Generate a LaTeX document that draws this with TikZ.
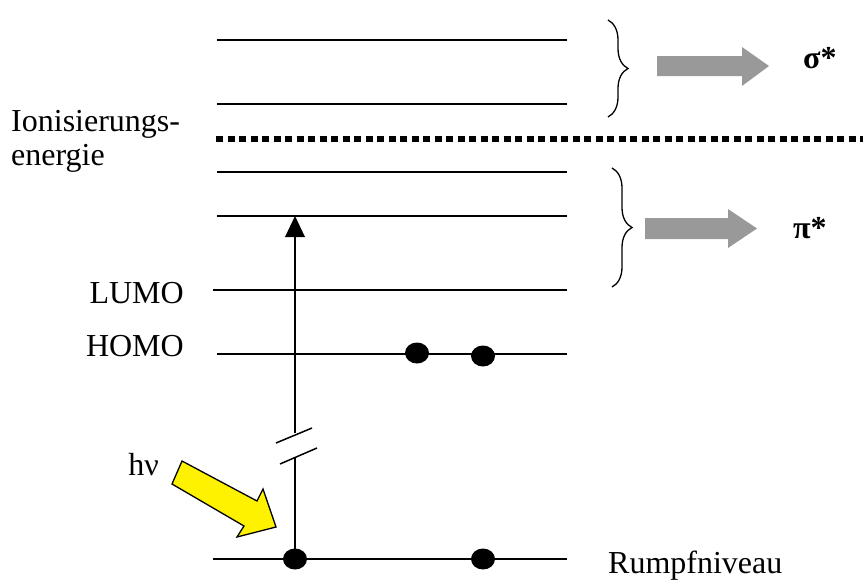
\documentclass[tikz,border=0pt]{standalone}
\usepackage{fontspec}
\setmainfont{Liberation Serif}
\usetikzlibrary{decorations.pathreplacing,shapes.geometric}
\begin{document}
\begin{tikzpicture}[x=1pt,y=-1pt,
  level/.style={line width=1.5pt},
  txt/.style={inner sep=0pt,font=\fontsize{32}{34}\selectfont},
  btxt/.style={inner sep=0pt,font=\fontsize{32}{34}\selectfont\bfseries},
  dot/.style={ellipse,fill=black,minimum width=24pt,minimum height=21pt,inner sep=0pt},
  grayarrow/.style={fill=black!40,draw=none},
  bracestyle/.style={decorate,decoration={brace,amplitude=20pt},line width=1.3pt}]
\useasboundingbox (0,0) rectangle (863,581);
% level end points
\coordinate (a1) at (217,40);  \coordinate (a2) at (567,40);
\coordinate (b1) at (217,104); \coordinate (b2) at (567,104);
\coordinate (c1) at (217,172); \coordinate (c2) at (567,172);
\coordinate (d1) at (217,216); \coordinate (d2) at (567,216);
\coordinate (l1) at (213,290); \coordinate (l2) at (567,290);
\coordinate (h1) at (217,354); \coordinate (h2) at (567,354);
\coordinate (r1) at (213,559); \coordinate (r2) at (567,559);
\draw[level] (a1) -- (a2);
\draw[level] (b1) -- (b2);
\draw[level] (c1) -- (c2);
\draw[level] (d1) -- (d2);
\draw[level] (l1) -- (l2);
\draw[level] (h1) -- (h2);
\draw[level] (r1) -- (r2);
% ionisation dotted line
\coordinate (i1) at (216,139); \coordinate (i2) at (863,139);
\draw[line width=5.5pt,dash pattern=on 7pt off 4.5pt] (i1) -- (i2);
% labels
\node[txt,anchor=base west] (ion) at (11,131) {Ionisierungs-};
\node[txt,anchor=base west] (ene) at (11,165) {energie};
\node[txt,anchor=base east] (lumo) at (184,303) {LUMO};
\node[txt,anchor=base east] (homo) at (184,356) {HOMO};
\node[txt,anchor=base west] (rumpf) at (608,573) {Rumpfniveau};
\node[txt,anchor=base east] (hv) at (159,475) {hν};
\node[btxt,anchor=base west] (sig) at (803,68) {σ*};
\node[btxt,anchor=base west] (pi) at (793,238) {π*};
% braces
\coordinate (bu1) at (608,20); \coordinate (bu2) at (608,117);
\coordinate (bl1) at (612,168); \coordinate (bl2) at (612,287);
\draw[bracestyle] (bu1) -- (bu2);
\draw[bracestyle] (bl1) -- (bl2);
% gray arrows
\fill[grayarrow] (657,56) -- (742,56) -- (742,47) -- (769,66) -- (742,86) -- (742,76) -- (657,76) -- cycle;
\fill[grayarrow] (645,218) -- (728,218) -- (728,209) -- (757,228.5) -- (728,248) -- (728,239) -- (645,239) -- cycle;
% electrons
\node[dot] (e1) at (295,559) {};
\node[dot] (e2) at (483,559) {};
\node[dot] (e3) at (417,353) {};
\node[dot] (e4) at (483,356) {};
% excitation arrow with break
\coordinate (brk1) at (295,433);
\coordinate (brk2) at (295,457);
\coordinate (top) at (295,216);
\draw[line width=1.5pt] (e1.center) -- (brk2);
\draw[line width=1.5pt] (brk1) -- (295,236);
\fill (top) -- (285,237) -- (305,237) -- cycle;
\draw[line width=1.5pt] (276,443) -- (312,428);
\draw[line width=1.5pt] (280,464) -- (317,448);
% photon arrow
\draw[fill=yellow,line width=1.3pt,line join=miter]
  (182,461) -- (257,501) -- (263,489) -- (276,527) -- (237,537) -- (244,526) -- (172,484) -- cycle;
\end{tikzpicture}
\end{document}
